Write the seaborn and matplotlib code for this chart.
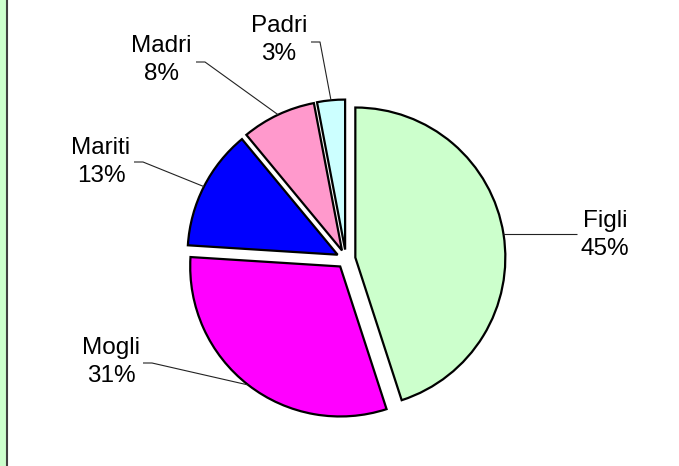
import numpy as np
import seaborn as sns
import matplotlib.pyplot as plt
from matplotlib.patches import Rectangle
from matplotlib.lines import Line2D

sns.set_theme(style="white")
plt.rcParams['font.family'] = ['Liberation Sans', 'DejaVu Sans']

# dati
categorie = ["Figli", "Mogli", "Mariti", "Madri", "Padri"]
percentuali = [45, 31, 13, 8, 3]
colori = ["#CCFFCC", "#FF00FF", "#0000FF", "#FF99CC", "#CCFFFF"]

# centro e raggio della torta in pixel
CX, CY, R = 346, 259, 150

# posizione etichette (pixel) e gomito della linea guida
pos_etichette = [(605, 235), (111, 362), (101, 162), (161, 60), (279, 40)]
gomiti = [(577, None), (152, 363), (143, 162), (205, 62), (320, 42)]


def px(x, y):
    return (x - CX) / R, (CY - y) / R


fig = plt.figure(figsize=(6.79, 4.66), dpi=100)
ax = fig.add_axes([0, 0, 1, 1])

wedges, _ = ax.pie(
    percentuali,
    colors=colori,
    startangle=90,
    counterclock=False,
    explode=[0.063] * len(percentuali),
    wedgeprops=dict(edgecolor="black", linewidth=1.6),
)

for w, nome, p, etich, (gx, gy) in zip(wedges, categorie, percentuali, pos_etichette, gomiti):
    mid = np.deg2rad((w.theta1 + w.theta2) / 2)
    cx, cy = w.center
    ax_, ay_ = cx + w.r * np.cos(mid), cy + w.r * np.sin(mid)
    if gy is None:
        xs, ys = [ax_, px(gx, 0)[0]], [ay_, ay_]
    else:
        ex, ey = px(gx, gy)
        xs, ys = [ex - 9 / R, ex, ax_], [ey, ey, ay_]
    ax.plot(xs, ys, color="#222222", linewidth=0.8, solid_capstyle="butt")
    lx, ly = px(*etich)
    ax.text(lx, ly, f"{nome}\n{p}%", ha="center", va="center",
            fontsize=17.5, color="black", linespacing=1.35)

ax.set_xlim(-CX / R, (679 - CX) / R)
ax.set_ylim(-(466 - CY) / R, CY / R)
ax.set_aspect("auto")
ax.axis("off")

# bordo sinistro
fig.patches.append(Rectangle((0, 0), 6 / 679, 1, transform=fig.transFigure,
                             facecolor="#CCFFCC", edgecolor="none"))
fig.lines.append(Line2D([7 / 679, 7 / 679], [0, 1], transform=fig.transFigure,
                        color="#404040", linewidth=1.5))

plt.savefig("out.png", dpi=100)
plt.close()
